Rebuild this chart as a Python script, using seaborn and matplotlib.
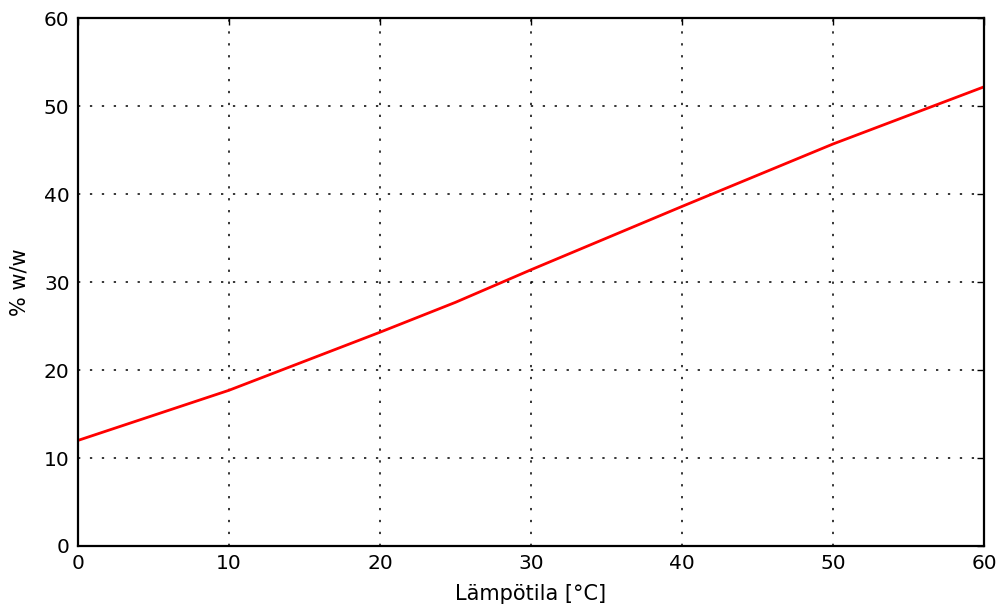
import matplotlib
matplotlib.use("Agg")
import matplotlib.pyplot as plt
import seaborn as sns
import pandas as pd

temperature = [0, 10, 20, 25, 30, 40, 50, 60]
percent_ww = [12.0, 17.7, 24.3, 27.7, 31.4, 38.6, 45.7, 52.2]
x_ticks = [0, 10, 20, 30, 40, 50, 60]
y_ticks = [0, 10, 20, 30, 40, 50, 60]

sns.set_style("white")
plt.rcParams['font.family'] = ['DejaVu Sans']
plt.rcParams['font.size'] = 12
plt.rcParams['text.color'] = 'black'
plt.rcParams['axes.labelcolor'] = 'black'

df = pd.DataFrame({"t": temperature, "p": percent_ww})

fig = plt.figure(figsize=(9.99, 6.07), dpi=100)
ax = fig.add_axes([0.078, 0.1005, 0.907, 0.8695])
sns.lineplot(data=df, x="t", y="p", ax=ax, color="red", linewidth=2.0)
ax.set_xlim(0, 60)
ax.set_ylim(0, 60)
ax.set_xticks(x_ticks)
ax.set_yticks(y_ticks)
ax.tick_params(direction="in", length=5, width=1, top=True, right=True,
               labelsize=14.5, colors="black", pad=6)
ax.grid(True, color="black", linestyle=(0, (1.5, 6.3)), linewidth=1.1)
for s in ax.spines.values():
    s.set_visible(True)
    s.set_color("black")
    s.set_linewidth(1.6)
ax.set_xlabel("Lämpötila [°C]", fontsize=15, color="black", labelpad=7.5)
ax.set_ylabel("% w/w", fontsize=15, color="black", labelpad=10)
fig.savefig("out.png", dpi=100)
